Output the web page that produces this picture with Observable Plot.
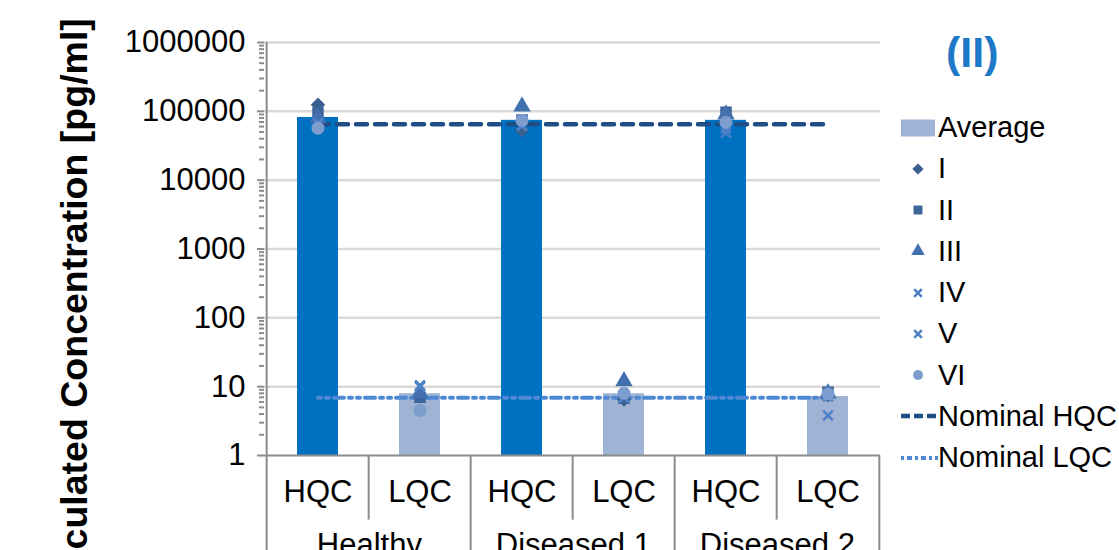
<!DOCTYPE html>
<html><head><meta charset="utf-8">
<script src="https://cdn.jsdelivr.net/npm/d3@7"></script>
<script src="https://cdn.jsdelivr.net/npm/@observablehq/plot@0.6"></script>
<style>
html,body{margin:0;padding:0;background:#fff;overflow:hidden;}
#wrap{position:relative;width:1119px;height:550px;overflow:hidden;font-family:"Liberation Sans",Arial,sans-serif;color:#000;}
.abs{position:absolute;white-space:nowrap;}
</style></head>
<body><div id="wrap"></div>
<script>
// ---- data ----
const groups = ["Healthy", "Diseased 1", "Diseased 2"];
const qcLevels = ["HQC", "LQC"];
const averages = [81500, 7.9, 74000, 7.9, 74000, 7.2];
const seriesNames = ["I", "II", "III", "IV", "V", "VI"];
const valuesI   = [125000, 7.5, 53000, 6.5, 82000, 7.5];
const valuesII  = [95000, 7.0, 75000, 6.8, 97000, 8.3];
const valuesIII = [80000, 8.0, 118000, 12.0, 90000, 8.0];
const valuesIV  = [68000, 10.5, 62000, 7.0, 49000, 3.8];
const valuesV   = [66000, 10.0, 62000, 7.0, 57000, 7.2];
const valuesVI  = [57000, 4.5, 74000, 8.0, 69000, 7.8];
const nominalHQC = 65000;
const nominalLQC = 6.9;
const yMajorTicks = [1, 10, 100, 1000, 10000, 100000, 1000000];
const legendLabels = ["Average", "I", "II", "III", "IV", "V", "VI", "Nominal HQC", "Nominal LQC"];

// ---- styles ----
const hqcColor = "#0070C0", lqcColor = "#9FB3D5";
const seriesColors = ["#3A5F8F", "#3D659C", "#4371B0", "#4C7FC7", "#4E81C8", "#7C9DCE"];
const seriesSymbols = ["diamond2", "square", "triangle", "times", "times", "circle"];
const axisGray = "#8C8C8C";
const hqcDash = "11,8", lqcDash = "3,5,3,5,10,5";

const categories = groups.flatMap(g => qcLevels.map(q => g + "|" + q));
const hqcKeys = categories.filter(c => c.endsWith("HQC"));
const lqcKeys = categories.filter(c => c.endsWith("LQC"));
const W = 1119, H = 550, mL = 264, mR = 239, mT = 42, mB = 95;
const step = (W - mL - mR) / categories.length;

const minorTicks = [];
for (let e = 0; e < 6; e++) for (let m = 2; m <= 9; m++) minorTicks.push(m * 10 ** e);

const bars = categories.map((c, i) => ({c, v: averages[i], t: c.split("|")[1]}));
const seriesArrays = [valuesI, valuesII, valuesIII, valuesIV, valuesV, valuesVI];

const dotMarks = seriesArrays.map((arr, s) => {
  const data = categories.map((c, i) => ({c, v: arr[i]}));
  const isStroke = seriesSymbols[s] === "times";
  return Plot.dot(data, isStroke
    ? {x: "c", y: "v", symbol: seriesSymbols[s], stroke: seriesColors[s], strokeWidth: 2.5, r: 4.5}
    : {x: "c", y: "v", symbol: seriesSymbols[s], fill: seriesColors[s], stroke: "none", r: 6.5});
});

const chart = Plot.plot({
  width: W, height: H,
  marginLeft: mL, marginRight: mR, marginTop: mT, marginBottom: mB,
  x: {domain: categories, paddingInner: 0.6, paddingOuter: 0.3, axis: null},
  y: {type: "log", domain: [1, 1e6], axis: null},
  style: {fontFamily: "'Liberation Sans', Arial, sans-serif", background: "transparent", overflow: "visible", color: "#000"},
  marks: [
    Plot.gridY(yMajorTicks.slice(1), {stroke: "#D9D9D9", strokeOpacity: 1, strokeWidth: 2.5}),
    Plot.barY(bars, {x: "c", y1: 1, y2: "v", fill: d => d.t === "HQC" ? hqcColor : lqcColor}),
    Plot.line(categories, {x: d => d, y: () => nominalHQC, stroke: "#1F4E86", strokeWidth: 4.5, strokeDasharray: hqcDash, strokeLinecap: "round"}),
    Plot.line(categories, {x: d => d, y: () => nominalLQC, stroke: "#5089D3", strokeWidth: 4, strokeDasharray: lqcDash}),
    ...dotMarks,
    // axis lines & separators
    Plot.ruleY([1], {stroke: axisGray, strokeWidth: 2}),
    Plot.ruleX([categories[0]], {x: d => d, dx: -step / 2, y1: 1e6, y2: 0.03, stroke: axisGray, strokeWidth: 2}),
    Plot.ruleX(hqcKeys.slice(1), {x: d => d, dx: -step / 2, y1: 1, y2: 0.03, stroke: axisGray, strokeWidth: 2}),
    Plot.ruleX([categories[categories.length - 1]], {x: d => d, dx: step / 2, y1: 1, y2: 0.03, stroke: axisGray, strokeWidth: 2}),
    Plot.ruleX(lqcKeys, {x: d => d, dx: -step / 2, y1: 1, y2: 0.115, stroke: axisGray, strokeWidth: 2}),
    Plot.axisY(minorTicks, {tickSize: 5, tickFormat: () => "", stroke: axisGray, strokeWidth: 2, label: null}),
    Plot.axisY(yMajorTicks, {tickSize: 7, tickPadding: 12, tickFormat: d => String(d), fontSize: 31, stroke: axisGray, strokeWidth: 2, fill: "#000", label: null}),
    Plot.axisX(categories, {tickSize: 0, tickPadding: 24, tickFormat: d => d.split("|")[1], fontSize: 31, fill: "#000", label: null}),
    Plot.axisX(hqcKeys, {tickSize: 0, tickPadding: 77, dx: step / 2, tickFormat: d => d.split("|")[0], fontSize: 31, fill: "#000", label: null})
  ]
});

const wrap = document.getElementById("wrap");
chart.style.position = "absolute"; chart.style.left = "0"; chart.style.top = "0";
wrap.appendChild(chart);

// y axis title
const yt = document.createElement("div");
yt.className = "abs";
yt.textContent = "Calculated Concentration [pg/ml]";
Object.assign(yt.style, {left: (74 - 400) + "px", top: (313 - 21) + "px", width: "800px", height: "42px", lineHeight: "42px",
  textAlign: "center", fontSize: "37.5px", fontWeight: "bold", transform: "rotate(-90deg)", transformOrigin: "50% 50%"});
wrap.appendChild(yt);

// panel title
const tt = document.createElement("div");
tt.className = "abs";
tt.textContent = "(II)";
Object.assign(tt.style, {left: "946px", top: "31px", fontSize: "43px", lineHeight: "43px", fontWeight: "bold", color: "#1F78C8"});
wrap.appendChild(tt);

// legend
const ns = "http://www.w3.org/2000/svg";
legendLabels.forEach((lab, i) => {
  const cy = 127.5 + i * 41.25;
  const txt = document.createElement("div");
  txt.className = "abs";
  txt.textContent = lab;
  Object.assign(txt.style, {left: "938px", top: (cy - 14.5) + "px", fontSize: "29px", lineHeight: "29px"});
  wrap.appendChild(txt);
  const svg = document.createElementNS(ns, "svg");
  svg.setAttribute("width", 40); svg.setAttribute("height", 20);
  Object.assign(svg.style, {position: "absolute", left: "899px", top: (cy - 10) + "px"});
  let el;
  if (i === 0) {
    el = document.createElementNS(ns, "rect");
    el.setAttribute("x", 2); el.setAttribute("y", 1.5); el.setAttribute("width", 34); el.setAttribute("height", 17);
    el.setAttribute("fill", lqcColor);
  } else if (i <= 6) {
    const s = i - 1;
    const symMap = {diamond2: d3.symbolDiamond2, square: d3.symbolSquare, triangle: d3.symbolTriangle, times: d3.symbolTimes, circle: d3.symbolCircle};
    el = document.createElementNS(ns, "path");
    const isStroke = seriesSymbols[s] === "times";
    el.setAttribute("d", d3.symbol(symMap[seriesSymbols[s]], isStroke ? 40 : 80)());
    el.setAttribute("transform", "translate(19,10)");
    if (isStroke) { el.setAttribute("fill", "none"); el.setAttribute("stroke", seriesColors[s]); el.setAttribute("stroke-width", 2.5); }
    else el.setAttribute("fill", seriesColors[s]);
  } else {
    el = document.createElementNS(ns, "line");
    el.setAttribute("x1", 2); el.setAttribute("x2", 39); el.setAttribute("y1", 10); el.setAttribute("y2", 10);
    if (i === 7) { el.setAttribute("stroke", "#1F4E86"); el.setAttribute("stroke-width", 4.5); el.setAttribute("stroke-dasharray", "9,4"); }
    else { el.setAttribute("stroke", "#5089D3"); el.setAttribute("stroke-width", 4); el.setAttribute("stroke-dasharray", "3,3,5,3"); }
  }
  svg.appendChild(el);
  wrap.appendChild(svg);
});
</script>
</body></html>
